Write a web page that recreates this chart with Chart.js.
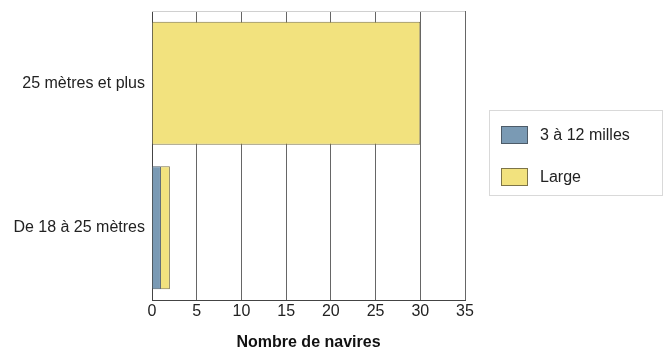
<!DOCTYPE html>
<html>
<head>
<meta charset="utf-8">
<script src="https://cdn.jsdelivr.net/npm/chart.js@4"></script>
<style>
  body { margin: 0; background: #fff; }
  #wrap { position: relative; width: 663px; height: 351px; }
  #legend {
    position: absolute; left: 489px; top: 110px; width: 172px; height: 84px;
    border: 1px solid #d9d9d9; font: 16px "Liberation Sans", Arial, sans-serif; color: #222;
  }
  .item { position: absolute; left: 11px; display: flex; align-items: center; }
  .sw { width: 25px; height: 16px; border: 1px solid #555; margin-right: 12px; }
</style>
</head>
<body>
<div id="wrap">
  <canvas id="chart" width="663" height="351"></canvas>
  <div id="legend"></div>
</div>
<script>
const categories = ['25 mètres et plus', 'De 18 à 25 mètres'];
const seriesNames = ['3 à 12 milles', 'Large'];
const cotier = [0, 1];
const large = [30, 1];
const colors = ['#7a9ab4', '#f2e27e'];
const borders = ['#4d5b68', '#7d7448'];

const topLine = {
  id: 'topLine',
  afterDraw(chart) {
    const a = chart.chartArea, c = chart.ctx;
    c.save();
    c.strokeStyle = '#d0d0d0';
    c.lineWidth = 1;
    c.beginPath();
    c.moveTo(a.left, a.top + 0.5);
    c.lineTo(a.right, a.top + 0.5);
    c.stroke();
    c.restore();
  }
};

const chart = new Chart(document.getElementById('chart'), {
  type: 'bar',
  data: {
    labels: categories,
    datasets: [
      { label: seriesNames[0], data: cotier, backgroundColor: colors[0], borderColor: borders[0], borderWidth: 1 },
      { label: seriesNames[1], data: large, backgroundColor: colors[1], borderColor: borders[1], borderWidth: 1 }
    ]
  },
  options: {
    indexAxis: 'y',
    responsive: false,
    animation: false,
    layout: { padding: { top: 11, right: 198, left: 0, bottom: 0 } },
    plugins: { legend: { display: false }, tooltip: { enabled: false } },
    datasets: { bar: { categoryPercentage: 1, barPercentage: 0.85 } },
    scales: {
      x: {
        stacked: true,
        min: 0, max: 35,
        ticks: { stepSize: 5, color: '#222', font: { family: 'Liberation Sans', size: 16 }, padding: 2 },
        grid: { color: '#666', drawTicks: false },
        border: { color: '#444' },
        title: { display: true, text: 'Nombre de navires', color: '#111', font: { family: 'Liberation Sans', size: 16, weight: 'bold', lineHeight: 1 }, padding: { top: 14, bottom: 0 } },
        afterFit(s) { s.height = 51; s.paddingLeft = 0; s.paddingRight = 0; }
      },
      y: {
        stacked: true,
        ticks: { color: '#222', font: { family: 'Liberation Sans', size: 16 }, padding: 7 },
        grid: { display: false, drawTicks: false },
        border: { color: '#444' },
        afterFit(s) { s.width = 152; s.paddingTop = 0; s.paddingBottom = 0; }
      }
    }
  },
  plugins: [topLine]
});

const legend = document.getElementById('legend');
seriesNames.forEach(function (name, i) {
  const d = document.createElement('div');
  d.className = 'item';
  d.style.top = (i === 0 ? 15 : 57) + 'px';
  d.innerHTML = '<div class="sw" style="background:' + colors[i] + ';border-color:' + borders[i] + '"></div><span>' + name + '</span>';
  legend.appendChild(d);
});
</script>
</body>
</html>
